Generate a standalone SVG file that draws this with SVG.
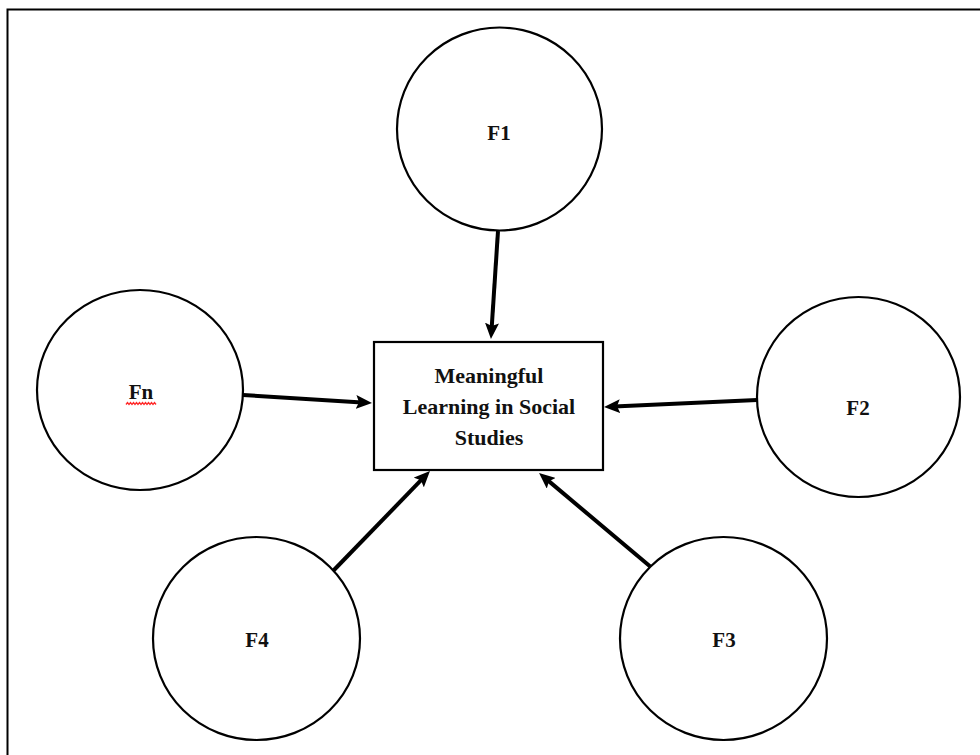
<svg xmlns="http://www.w3.org/2000/svg" width="980" height="755" viewBox="0 0 980 755">
<style>
.node circle, .node rect { fill: #fff; stroke: #000; stroke-width: 2.2; }
.lbl { font-family: "Liberation Serif", "DejaVu Serif", serif; font-weight: bold; font-size: 22px; fill: #111; text-anchor: middle; }
.conn line { stroke: #000; stroke-width: 4; }
</style>
<defs>
<marker id="ah" markerUnits="userSpaceOnUse" viewBox="0 0 16 14" refX="6" refY="7" markerWidth="16" markerHeight="14" orient="auto">
<path d="M0,0 L16,7 L0,14 L3,7 Z" fill="#000"/>
</marker>
</defs>
<rect x="0" y="0" width="980" height="755" fill="#fff"/>
<rect x="7.5" y="9.5" width="990" height="760" fill="none" stroke="#000" stroke-width="2"/>
<g id="connectors" class="conn">
<line x1="498" y1="231" x2="491.6" y2="329" marker-end="url(#ah)"/>
<line x1="243" y1="395" x2="362" y2="402.4" marker-end="url(#ah)"/>
<line x1="757" y1="400" x2="614" y2="406.5" marker-end="url(#ah)"/>
<line x1="333" y1="571" x2="423" y2="478.2" marker-end="url(#ah)"/>
<line x1="652" y1="568" x2="546.7" y2="479.4" marker-end="url(#ah)"/>
</g>
<g id="center" class="node">
<rect x="374" y="342" width="229" height="128"/>
<text class="lbl" x="489" y="383">Meaningful</text>
<text class="lbl" x="489" y="414">Learning in Social</text>
<text class="lbl" x="489" y="445">Studies</text>
</g>
<g id="F1" class="node">
<ellipse cx="499.5" cy="129" rx="102.5" ry="101.5" fill="#fff" stroke="#000" stroke-width="2.2"/>
<text class="lbl" x="499" y="140" style="font-size:21px">F1</text>
</g>
<g id="Fn" class="node">
<ellipse cx="140" cy="390" rx="103" ry="100" fill="#fff" stroke="#000" stroke-width="2.2"/>
<text class="lbl" x="141" y="399" style="font-size:21px">Fn</text>
<polyline points="126,404.5 127.5,402.5 129,404.5 130.5,402.5 132,404.5 133.5,402.5 135,404.5 136.5,402.5 138,404.5 139.5,402.5 141,404.5 142.5,402.5 144,404.5 145.5,402.5 147,404.5 148.5,402.5 150,404.5 151.5,402.5 153,404.5 154.5,402.5 156,404.5" fill="none" stroke="#ff2a2a" stroke-width="1.3"/>
</g>
<g id="F2" class="node">
<ellipse cx="858.5" cy="397" rx="101.5" ry="100" fill="#fff" stroke="#000" stroke-width="2.2"/>
<text class="lbl" x="858" y="415" style="font-size:21px">F2</text>
</g>
<g id="F4" class="node">
<ellipse cx="256.5" cy="638.5" rx="103.5" ry="101.5" fill="#fff" stroke="#000" stroke-width="2.2"/>
<text class="lbl" x="257" y="647" style="font-size:21px">F4</text>
</g>
<g id="F3" class="node">
<ellipse cx="723.5" cy="638.5" rx="103.5" ry="101.5" fill="#fff" stroke="#000" stroke-width="2.2"/>
<text class="lbl" x="724" y="647" style="font-size:21px">F3</text>
</g>
</svg>
